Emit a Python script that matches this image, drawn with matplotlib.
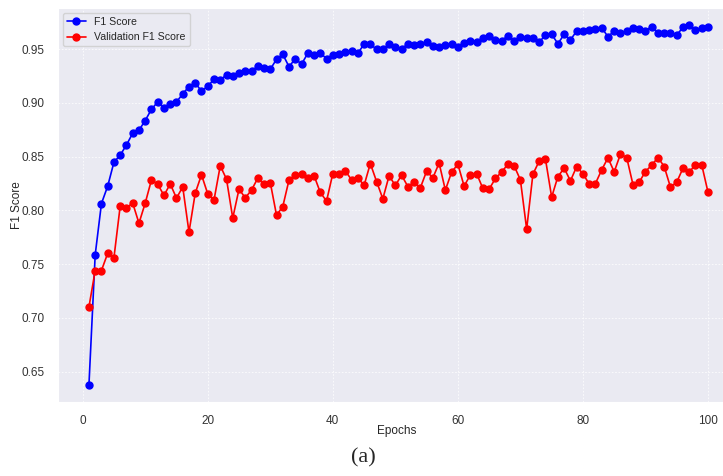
import numpy as np
import matplotlib.pyplot as plt
import seaborn as sns

# per-epoch scores
epochs = list(range(1, 101))

f1_score = [
    0.6375, 0.7586, 0.8063, 0.8225, 0.8448, 0.8513, 0.8608, 0.8717, 0.8745, 0.8835,
    0.8940, 0.9008, 0.8955, 0.8990, 0.9008, 0.9083, 0.9151, 0.9185, 0.9108, 0.9154,
    0.9219, 0.9210, 0.9262, 0.9253, 0.9275, 0.9299, 0.9296, 0.9340, 0.9327, 0.9312,
    0.9405, 0.9451, 0.9336, 0.9410, 0.9359, 0.9461, 0.9445, 0.9467, 0.9408, 0.9445,
    0.9451, 0.9473, 0.9485, 0.9461, 0.9545, 0.9545, 0.9498, 0.9498, 0.9545, 0.9522,
    0.9504, 0.9545, 0.9538, 0.9545, 0.9570, 0.9530, 0.9520, 0.9538, 0.9545, 0.9520,
    0.9560, 0.9575, 0.9566, 0.9606, 0.9622, 0.9585, 0.9575, 0.9625, 0.9575, 0.9615,
    0.9606, 0.9600, 0.9566, 0.9628, 0.9637, 0.9550, 0.9637, 0.9585, 0.9668, 0.9668,
    0.9674, 0.9690, 0.9699, 0.9615, 0.9668, 0.9647, 0.9668, 0.9693, 0.9684, 0.9671,
    0.9708, 0.9652, 0.9652, 0.9652, 0.9631, 0.9702, 0.9721, 0.9677, 0.9693, 0.9708,
]

val_f1_score = [
    0.7100, 0.7440, 0.7440, 0.7600, 0.7560, 0.8040, 0.8023, 0.8067, 0.7880, 0.8067,
    0.8283, 0.8243, 0.8138, 0.8246, 0.8113, 0.8218, 0.7797, 0.8160, 0.8330, 0.8153,
    0.8095, 0.8414, 0.8290, 0.7928, 0.8197, 0.8116, 0.8188, 0.8299, 0.8243, 0.8258,
    0.7955, 0.8035, 0.8283, 0.8330, 0.8336, 0.8299, 0.8323, 0.8166, 0.8086, 0.8342,
    0.8336, 0.8367, 0.8283, 0.8305, 0.8231, 0.8435, 0.8268, 0.8107, 0.8321, 0.8231,
    0.8327, 0.8221, 0.8262, 0.8209, 0.8364, 0.8302, 0.8439, 0.8188, 0.8355, 0.8429,
    0.8225, 0.8330, 0.8342, 0.8203, 0.8197, 0.8296, 0.8356, 0.8429, 0.8414, 0.8283,
    0.7825, 0.8336, 0.8457, 0.8479, 0.8123, 0.8314, 0.8392, 0.8274, 0.8407, 0.8339,
    0.8246, 0.8249, 0.8376, 0.8488, 0.8358, 0.8522, 0.8491, 0.8240, 0.8262, 0.8361,
    0.8420, 0.8491, 0.8407, 0.8215, 0.8262, 0.8392, 0.8355, 0.8426, 0.8423, 0.8169,
]

x_ticks = [0, 20, 40, 60, 80, 100]
y_ticks = [0.65, 0.70, 0.75, 0.80, 0.85, 0.90, 0.95]

sns.set_style('darkgrid')
plt.rcParams['font.family'] = ['Liberation Sans', 'DejaVu Sans']

fig = plt.figure(figsize=(7.23, 4.76), dpi=100)
ax = fig.add_axes([0.0802, 0.1555, 0.9198, 0.8277])

ax.plot(epochs, f1_score, '-o', color='blue', markersize=5, linewidth=1.2, label='F1 Score')
ax.plot(epochs, val_f1_score, '-o', color='red', markersize=5, linewidth=1.2, label='Validation F1 Score')

ax.set_xlim(-3.95, 102.4)
ax.set_ylim(0.6217, 0.9882)
ax.set_xticks(x_ticks)
ax.set_yticks(y_ticks)
ax.set_yticklabels([f"{v:.2f}" for v in y_ticks])
ax.tick_params(labelsize=8.5, pad=6, colors='#333333')
ax.grid(True, color='white', linestyle=(0, (2, 2)), linewidth=0.6, alpha=0.9)

ax.set_xlabel('Epochs', fontsize=8.5, color='#262626')
ax.set_ylabel('F1 Score', fontsize=8.5, color='#262626')
ax.xaxis.set_label_coords(0.51, -0.058)
ax.yaxis.set_label_coords(-0.052, 0.5)

ax.legend(loc='upper left', fontsize=7.6, frameon=True, borderaxespad=0.45,
          handlelength=1.8)

fig.text(0.503, 0.038, '(a)', ha='center', va='center', fontsize=16,
         family=['Liberation Serif', 'DejaVu Serif'])

plt.savefig('out.png', dpi=100)
plt.close()
